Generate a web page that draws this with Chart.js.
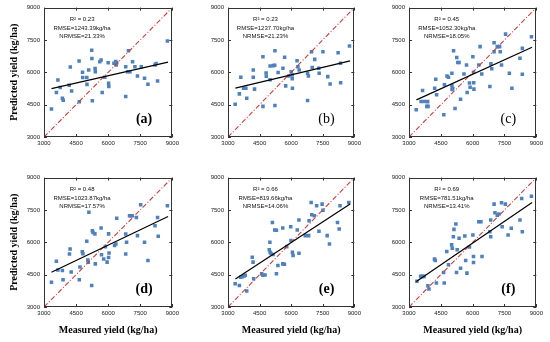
<!DOCTYPE html>
<html>
<head>
<meta charset="utf-8">
<script src="https://cdn.jsdelivr.net/npm/chart.js@4.4.1/dist/chart.umd.min.js"></script>
<style>
html,body{margin:0;padding:0;background:#fff;}
#wrap{position:relative;width:550px;height:342px;overflow:hidden;background:#fff;}
#wrap canvas{position:absolute;}
</style>
</head>
<body>
<div id="wrap"></div>
<script>
// axis ticks (kg/ha), shared by every panel
const tickVals = [3000, 4500, 6000, 7500, 9000];
const oneToOne = [3000, 9000];
const fitX = [3350, 8800];

// (a)
const measA = [3350,3580,3650,3760,3860,3900,4180,4230,4290,4640,4650,4800,4810,5000,5010,5090,5230,5240,5260,5390,5400,5610,5670,5720,5840,6000,6020,6030,6270,6350,6380,6400,6820,6820,6910,6950,7020,7140,7250,7370,7550,7700,7860,8190,8240,8310,8770];
const predA = [4300,5060,5640,5300,4800,4700,5400,6250,5130,6520,4630,6000,5760,5760,5440,6110,7020,6640,4680,6180,6030,6490,6570,5060,5770,6440,5490,5340,6420,6500,6340,6450,4880,6260,6030,7000,6030,6490,6260,5830,6260,5720,5450,6340,6410,5600,7450];
const fitA = [5240, 6470];

// (b)
const measB = [3340,3540,3610,3740,3850,3890,4200,4200,4260,4660,4660,4810,4820,5000,5000,5150,5230,5220,5230,5380,5610,5690,5740,5890,6000,6050,6050,6060,6280,6320,6380,6780,6820,6780,6970,7000,7120,7310,7330,7510,7740,7850,8230,8340,8350,8770];
const predB = [4520,5000,5770,5260,5260,4800,6110,5770,5220,6720,4420,5970,5820,6290,5650,6310,7000,6330,4460,5990,6190,6700,5370,5830,6030,5880,5700,5260,6540,6260,6110,5960,5830,4690,6950,6220,6600,6190,5960,6950,5800,5460,6910,6420,5520,7220];
const fitB = [5270, 6530];

// (c)
const measC = [3340,3570,3640,3720,3840,3900,3880,4210,4260,4300,4640,4670,4790,4860,5020,5020,5030,5060,5100,5170,5250,5300,5360,5430,5590,5710,5740,5850,5880,6010,6040,6050,6060,6290,6350,6430,6810,6860,6900,7010,7010,7160,7270,7300,7360,7550,7730,7850,8230,8340,8340,8770];
const predC = [4260,4650,5160,4650,4420,4420,4640,5260,5680,4960,4030,5420,5830,5770,5960,5380,5200,5260,7000,4320,6690,6450,6450,4750,5920,6340,5060,5500,5310,6720,6000,5520,5220,6340,7190,5920,5340,6390,6160,7370,6950,7190,7190,6950,6340,7770,5960,5260,6650,7110,5910,7650];
const fitC = [4720, 7160];

// (d)
const measD = [3350,3580,3650,3860,3890,4190,4220,4270,4650,4680,4790,4820,5000,5050,5070,5100,5230,5260,5290,5380,5400,5670,5690,5790,5870,5950,6020,6020,6040,6300,6360,6400,6820,6820,6860,7000,7060,7120,7320,7370,7520,7700,7860,8190,8310,8340,8770];
const predD = [4150,5120,4720,4690,4260,5460,5690,4620,4260,4850,5560,5470,6050,5180,5080,7390,4000,6540,6460,6390,5000,6660,5420,5230,5800,5080,6390,5300,5500,5850,5920,7120,6380,5460,6000,7230,7230,7230,7150,6310,7740,6000,5160,6770,7150,6280,7690];
const fitD = [4610, 7200];

// (e)
const measE = [3340,3540,3600,3680,3760,3820,3890,4220,4150,4190,4600,4650,4760,4960,4990,5000,5040,5110,5140,5220,5300,5300,5370,5600,5600,5680,5790,5980,5990,6060,6090,6290,6370,6370,6670,6830,6850,6950,6980,7100,7210,7320,7470,7510,7710,7820,8200,8280,8320,8740];
const predE = [4080,4000,4380,4400,4440,4470,3740,4310,5310,5080,4540,4470,4480,5650,6000,5540,5480,6920,5430,6570,6560,4540,4920,6660,5000,4980,5800,6720,6080,5540,5390,6570,5490,7030,6310,6310,7000,7850,7280,7230,7690,6510,7770,7490,6310,5920,6920,6620,7690,7850];
const fitE = [4300, 7780];

// (f)
const measF = [3370,3550,3630,3710,3890,3940,4200,4240,4290,4630,4660,4780,4860,5010,5040,5090,5120,5210,5240,5270,5360,5430,5630,5670,5730,5850,6010,6040,6040,6290,6390,6440,6810,6850,6850,7010,7050,7160,7240,7360,7390,7540,7670,7820,8230,8310,8340,8770];
const predF = [4190,4420,4420,4420,3990,3830,5220,5160,4110,4600,4110,5570,4960,5880,5720,6260,6600,6850,4600,5650,6190,4800,6290,5160,4570,5780,6340,5340,5060,6950,6950,5340,6490,7030,6260,7770,7370,7260,7310,7830,6720,7770,6340,6650,7030,8030,6490,8140];
const fitF = [4180, 7850];

const panelLabels = ['(a)', '(b)', '(c)', '(d)', '(e)', '(f)'];
const r2Text = ['0.23', '0.23', '0.45', '0.48', '0.66', '0.69'];
const rmseText = ['1243.39', '1237.70', '1052.30', '1023.87', '819.66', '781.51'];
const nrmseText = ['21.33', '21.23', '18.05', '17.57', '14.06', '13.41'];

const series = [
  [measA, predA, fitA], [measB, predB, fitB], [measC, predC, fitC],
  [measD, predD, fitD], [measE, predE, fitE], [measF, predF, fitF]
];

// plot-area boxes in page pixels
const colLeft = [44, 228, 409];
const colWidth = [132, 130, 131];
const rowTop = [7, 177];
const plotH = 130;

const sans = "'Liberation Sans', Arial, sans-serif";
const serif = "'Liberation Serif', 'Times New Roman', serif";

const framePlugin = {
  id: 'frame',
  afterDraw(chart, args, opts) {
    const ctx = chart.ctx, a = chart.chartArea;
    const xs = chart.scales.x, ys = chart.scales.y;
    ctx.save();
    ctx.strokeStyle = '#333';
    ctx.lineWidth = 1;
    ctx.strokeRect(Math.round(a.left) + 0.5, Math.round(a.top) + 0.5, Math.round(a.right - a.left) - 1, Math.round(a.bottom - a.top) - 1);
    ctx.beginPath();
    tickVals.forEach(v => {
      const px = Math.round(xs.getPixelForValue(v)) + 0.5;
      const py = Math.round(ys.getPixelForValue(v)) + 0.5;
      ctx.moveTo(px, a.bottom); ctx.lineTo(px, a.bottom - 3);
      ctx.moveTo(px, a.top); ctx.lineTo(px, a.top + 3);
      ctx.moveTo(a.left, py); ctx.lineTo(a.left + 3, py);
      ctx.moveTo(a.right, py); ctx.lineTo(a.right - 3, py);
    });
    ctx.stroke();

    // statistics text
    const i = opts.idx;
    ctx.fillStyle = '#111';
    ctx.textAlign = 'center';
    ctx.textBaseline = 'middle';
    ctx.font = '6px ' + sans;
    const tx = xs.getPixelForValue(4780);
    ctx.fillText('R\u00b2 = ' + r2Text[i], tx, a.top + 12);
    ctx.fillText('RMSE=' + rmseText[i] + 'kg/ha', tx, a.top + 21);
    ctx.fillText('NRMSE=' + nrmseText[i] + '%', tx, a.top + 29);

    // panel letter
    ctx.fillStyle = '#000';
    ctx.font = (i === 1 || i === 2 ? '' : 'bold ') + '14px ' + serif;
    ctx.fillText(panelLabels[i], xs.getPixelForValue(7680), ys.getPixelForValue(3820));
    ctx.restore();
  }
};

const wrap = document.getElementById('wrap');

series.forEach(([meas, pred, fit], i) => {
  const col = i % 3, row = Math.floor(i / 3);
  const yW = col === 0 ? 44 : 34;
  const xH = row === 1 ? 35 : 14;
  const padTop = 7, padRight = 6;
  const W = yW + colWidth[col] + padRight;
  const H = padTop + plotH + xH;
  const cv = document.createElement('canvas');
  cv.width = W; cv.height = H;
  cv.style.left = (colLeft[col] - yW) + 'px';
  cv.style.top = (rowTop[row] - padTop) + 'px';
  cv.style.width = W + 'px'; cv.style.height = H + 'px';
  wrap.appendChild(cv);

  const axis = (isX) => ({
    type: 'linear', min: 3000, max: 9000,
    afterBuildTicks: s => { s.ticks = tickVals.map(v => ({ value: v })); },
    afterFit: s => { if (isX) s.height = xH; else s.width = yW; },
    grid: { display: false, drawTicks: false },
    border: { display: false },
    ticks: {
      font: { family: sans, size: 6 }, color: '#222',
      padding: isX ? 3 : 4, maxRotation: 0, autoSkip: false,
      callback: v => String(v)
    },
    title: isX
      ? { display: row === 1, text: 'Measured yield (kg/ha)', color: '#000', font: { family: serif, size: 10, weight: 'bold' }, padding: { top: 0, bottom: 5.5 } }
      : { display: col === 0, text: 'Predicted yield (kg/ha)', color: '#000', font: { family: serif, size: 10, weight: 'bold' }, padding: { top: 8.5, bottom: 0 } }
  });

  new Chart(cv, {
    type: 'scatter',
    data: {
      datasets: [
        { data: fitX.map((x, k) => ({ x, y: fit[k] })), type: 'line', borderColor: '#000', borderWidth: 1.2, pointRadius: 0, order: 1 },
        { data: oneToOne.map(v => ({ x: v, y: v })), type: 'line', borderColor: '#c8403d', borderWidth: 1.1, borderDash: [5, 2, 1, 2], pointRadius: 0, order: 2 },
        { data: meas.map((x, k) => ({ x, y: pred[k] })), pointStyle: 'rect', pointRadius: 2.5, backgroundColor: '#4f81bd', borderWidth: 0, order: 3 }
      ]
    },
    options: {
      responsive: false, animation: false, events: [],
      layout: { padding: { top: padTop, right: padRight, left: 0, bottom: 0 } },
      plugins: { legend: { display: false }, tooltip: { enabled: false }, frame: { idx: i } },
      scales: { x: axis(true), y: axis(false) }
    },
    plugins: [framePlugin]
  });
});
</script>
</body>
</html>
